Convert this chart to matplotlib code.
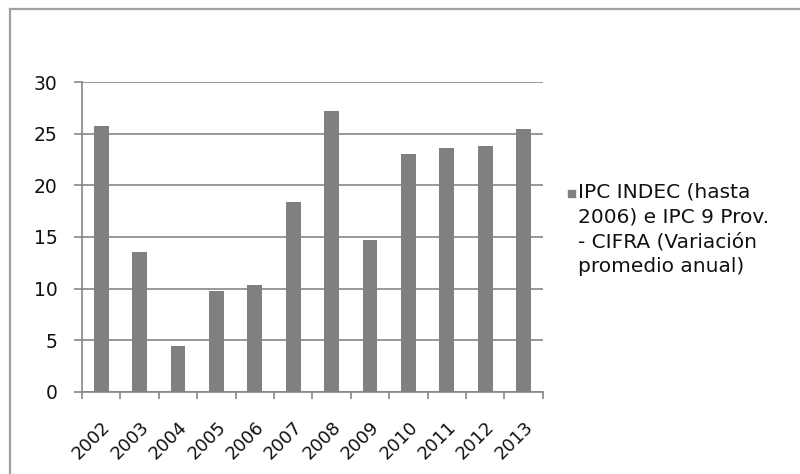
import numpy as np
import matplotlib
matplotlib.use("Agg")
import matplotlib.pyplot as plt
from matplotlib.patches import Rectangle
from matplotlib.lines import Line2D

years = ["2002", "2003", "2004", "2005", "2006", "2007",
         "2008", "2009", "2010", "2011", "2012", "2013"]
ipc = [25.8, 13.5, 4.4, 9.8, 10.3, 18.4, 27.2, 14.7, 23.1, 23.6, 23.8, 25.5]
series_label = "IPC INDEC (hasta\n2006) e IPC 9 Prov.\n- CIFRA (Variación\npromedio anual)"

bar_color = "#808080"
line_color = "#868686"

plt.rcParams["font.family"] = ["DejaVu Sans"]

fig = plt.figure(figsize=(8.0, 4.74), dpi=100)
ax = fig.add_axes([0.1025, 0.174, 0.576, 0.652])

x = np.arange(len(years))
ax.bar(x, ipc, width=0.39, color=bar_color, zorder=3)

ax.set_xlim(-0.5, len(years) - 0.5)
ax.set_ylim(0, 30)
ax.set_yticks(range(0, 31, 5))
ax.yaxis.grid(True, color=line_color, linewidth=1.2, zorder=0)

# labels sit under each bar, tick marks fall between categories
ax.set_xticks(x)
ax.set_xticklabels(years, rotation=45, ha="right", va="top",
                   rotation_mode="anchor", fontsize=13, color="#111111")
ax.tick_params(axis="x", which="major", length=0, pad=19)
ax.set_xticks(np.arange(-0.5, len(years)), minor=True)
ax.tick_params(axis="x", which="minor", length=5, width=1.2,
               color=line_color, direction="out")
ax.tick_params(axis="y", length=6, width=1.2, color=line_color,
               pad=11.5, labelsize=13.5, labelcolor="#111111")

for side in ("top", "right"):
    ax.spines[side].set_visible(False)
for side in ("left", "bottom"):
    ax.spines[side].set_color(line_color)
    ax.spines[side].set_linewidth(1.2)

# legend drawn by hand so the swatch lines up with the first text line
fig.patches.append(Rectangle((568 / 800, 1 - 197 / 474), 7 / 800, 7 / 474,
                             transform=fig.transFigure, color=bar_color))
fig.text(578 / 800, 1 - 183 / 474, series_label, fontsize=14.5,
         va="top", ha="left", linespacing=1.38, color="#111111")

# chart frame: top and left edges
fig.lines.append(Line2D([10 / 800, 1], [1 - 9 / 474, 1 - 9 / 474],
                        transform=fig.transFigure, color="#a0a0a0", linewidth=1.6))
fig.lines.append(Line2D([10 / 800, 10 / 800], [0, 1 - 9 / 474],
                        transform=fig.transFigure, color="#a0a0a0", linewidth=1.6))

fig.savefig("out.png", dpi=100)
